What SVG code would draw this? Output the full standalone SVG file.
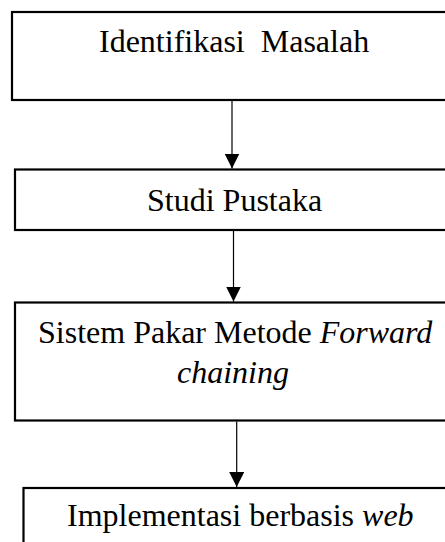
<svg xmlns="http://www.w3.org/2000/svg" width="445" height="542" viewBox="0 0 445 542">
<style>
.box{fill:#fff;stroke:#000;stroke-width:2.2}
.lbl{font-family:"Liberation Serif","Times New Roman",serif;font-size:32px;fill:#000;white-space:pre}
.it{font-style:italic}
.con{stroke:#000;stroke-width:1.2;fill:none}
</style>
<defs>
<marker id="ah" markerUnits="userSpaceOnUse" markerWidth="15" markerHeight="15" viewBox="0 0 15 15" refX="15" refY="7.5" orient="auto">
<path d="M0,0 L15,7.5 L0,15 z" fill="#000"/>
</marker>
</defs>
<rect width="445" height="542" fill="#fff"/>
<g id="n1">
<rect class="box" x="12" y="12" width="444" height="88"/>
<text class="lbl" x="99" y="52" xml:space="preserve">Identifikasi  Masalah</text>
</g>
<g id="n2">
<rect class="box" x="15" y="169.5" width="440" height="60.5"/>
<text class="lbl" x="147" y="211">Studi Pustaka</text>
</g>
<g id="n3">
<rect class="box" x="15" y="302.5" width="440" height="118"/>
<text class="lbl" x="38" y="343">Sistem Pakar Metode <tspan class="it">Forward</tspan></text>
<text class="lbl it" x="177" y="383">chaining</text>
</g>
<g id="n4">
<rect class="box" x="23.5" y="488" width="430" height="80"/>
<text class="lbl" x="67" y="526">Implementasi berbasis <tspan class="it">web</tspan></text>
</g>
<g id="connectors">
<line class="con" x1="232" y1="101" x2="232" y2="168.5" marker-end="url(#ah)"/>
<line class="con" x1="233.5" y1="231" x2="233.5" y2="301.5" marker-end="url(#ah)"/>
<line class="con" x1="236.7" y1="421.5" x2="236.7" y2="487" marker-end="url(#ah)"/>
</g>
</svg>
